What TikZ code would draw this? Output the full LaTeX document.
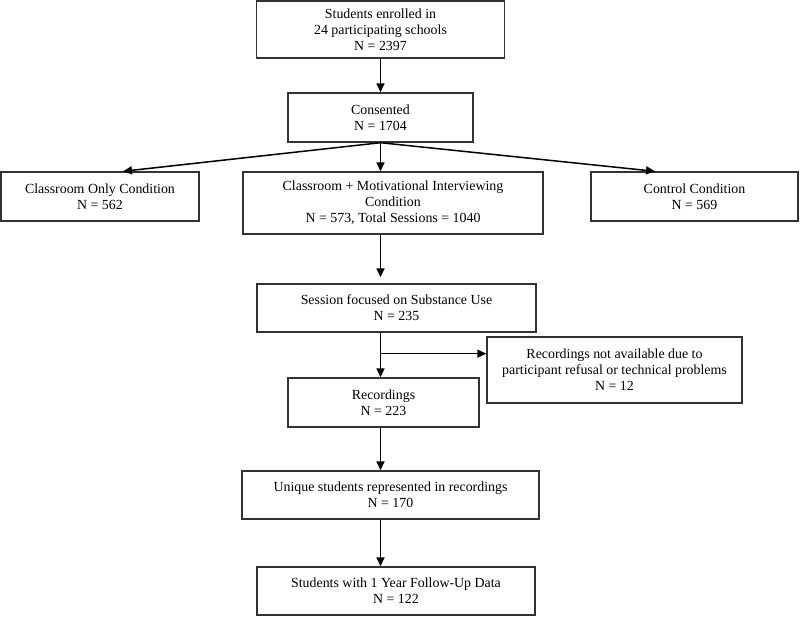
\documentclass[tikz,border=0pt]{standalone}
\usepackage{fontspec}
\setmainfont{Liberation Serif}
\usetikzlibrary{arrows.meta,calc}
\tikzset{
  box/.style={draw=black!80, line width=1.4pt, align=center, inner sep=0pt,
    font=\fontsize{13.9}{16}\selectfont, text=black},
  arr/.style={draw=black, line width=1.5pt, -{Triangle[length=9pt,width=8pt]}},
  ln/.style={draw=black, line width=1.5pt}
}
\begin{document}
\begin{tikzpicture}[x=1pt,y=-1pt]
\useasboundingbox (0,0) rectangle (800,616);
\node[box, minimum width=248pt, minimum height=57pt] (b1) at (380.5,29.5) {Students enrolled in\\24 participating schools\\N = 2397};
\node[box, minimum width=185pt, minimum height=49pt] (cons) at (380.5,117.5) {Consented\\N = 1704};
\node[box, minimum width=198pt, minimum height=49pt] (left) at (100,196.5) {Classroom Only Condition\\N = 562};
\node[box, minimum width=300pt, minimum height=62pt] (mid) at (393,203) {Classroom + Motivational Interviewing\\Condition\\N = 573, Total Sessions = 1040};
\node[box, minimum width=207pt, minimum height=49pt] (right) at (694.5,196.5) {Control Condition\\N = 569};
\node[box, minimum width=279pt, minimum height=48pt] (sess) at (396.5,308) {Session focused on Substance Use\\N = 235};
\node[box, minimum width=255pt, minimum height=66pt] (na) at (614.5,370) {Recordings not available due to\\participant refusal or technical problems\\N = 12};
\node[box, minimum width=191pt, minimum height=49pt] (rec) at (383.5,402.5) {Recordings\\N = 223};
\node[box, minimum width=297pt, minimum height=48pt] (uniq) at (390.5,495) {Unique students represented in recordings\\N = 170};
\node[box, minimum width=278pt, minimum height=48pt] (fin) at (396,591) {Students with 1 Year Follow-Up Data\\N = 122};
\draw[arr] (b1.south) -- (cons.north);
\draw[arr] (cons.south) -- ([xshift=23pt]left.north);
\draw[arr] (cons.south) -- (mid.north -| cons.south);
\draw[arr] (cons.south) -- ([xshift=-39.5pt]right.north);
\draw[arr, shorten >=6pt] (mid.south -| cons.south) -- (sess.north -| cons.south);
\draw[arr] (sess.south -| cons.south) -- (rec.north -| cons.south);
\coordinate (br) at ($(sess.south -| cons.south)!0.47!(rec.north -| cons.south)$);
\draw[arr] (br) -- (br -| na.west);
\draw[arr] (rec.south -| cons.south) -- (uniq.north -| cons.south);
\draw[arr] (uniq.south -| cons.south) -- (fin.north -| cons.south);
\end{tikzpicture}
\end{document}
